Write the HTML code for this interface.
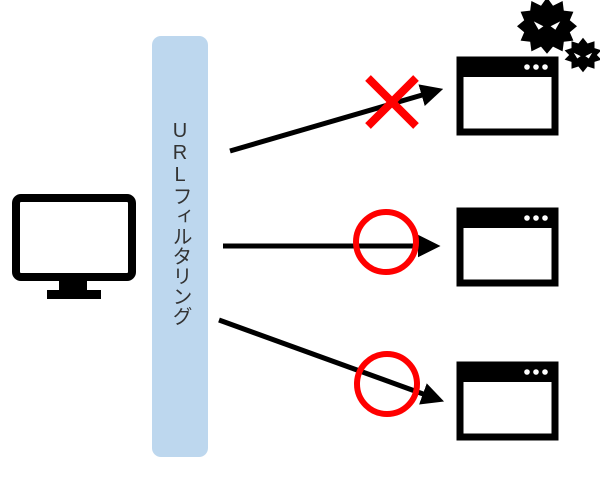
<!DOCTYPE html>
<html><head><meta charset="utf-8"><style>
html,body{margin:0;padding:0;background:#fff;width:600px;height:483px;overflow:hidden;}
.t{position:absolute;left:164px;top:120px;width:32px;height:230px;writing-mode:vertical-rl;text-orientation:upright;font-family:"Liberation Sans","Noto Sans CJK JP",sans-serif;font-size:20px;color:#333;letter-spacing:0;line-height:32px;text-align:start;}
</style></head><body>
<svg width="600" height="483" style="position:absolute;left:0;top:0">
<defs><marker id="a" markerWidth="4.5" markerHeight="4.5" refX="3" refY="2.25" orient="auto"><path d="M0,0L4.5,2.25L0,4.5Z" fill="#000"/></marker></defs>
<rect x="152" y="36" width="56" height="421" rx="9" fill="#bdd7ee"/>
<rect x="16" y="198" width="116" height="79" rx="5" fill="#fff" stroke="#000" stroke-width="8"/>
<rect x="59" y="280" width="28" height="11" fill="#000"/>
<rect x="47" y="290" width="54" height="9" fill="#000"/>
<g id="b"><rect x="460" y="60" width="95" height="72" fill="#fff" stroke="#000" stroke-width="7"/><rect x="457" y="57" width="101" height="20" fill="#000"/><circle cx="527" cy="67" r="2.8" fill="#fff"/><circle cx="536" cy="67" r="2.8" fill="#fff"/><circle cx="545" cy="67" r="2.8" fill="#fff"/></g>
<use href="#b" y="151"/>
<use href="#b" y="305"/>
<g transform="translate(547,25) scale(1.2) translate(-547,-25)">
<polygon points="547,2 552,9 560,5 561,13 569,14 566,21 572,26 566,31 569,38 561,39 560,47 552,43 547,49 542,43 534,47 533,39 525,38 528,31 522,26 528,21 525,14 533,13 534,5 542,9" fill="#000"/>
<path d="M536,22 L544,26 L540,29Z M558,22 L550,26 L554,29Z" fill="#fff"/>
</g>
<g transform="translate(583,55) scale(1.15) translate(-583,-55)">
<polygon points="583,40 587,45 593,43 593,49 599,51 595,55 599,59 593,61 593,67 587,65 583,70 579,65 573,67 573,61 567,59 571,55 567,51 573,49 573,43 579,45" fill="#000"/>
<path d="M575,53 L581,56 L578,58Z M591,53 L585,56 L588,58Z" fill="#fff"/>
</g>
<line x1="230" y1="151" x2="436" y2="91" stroke="#000" stroke-width="5" marker-end="url(#a)"/>
<line x1="223" y1="246" x2="433" y2="246" stroke="#000" stroke-width="5" marker-end="url(#a)"/>
<line x1="219" y1="320" x2="437" y2="399" stroke="#000" stroke-width="5" marker-end="url(#a)"/>
<path d="M368,78 L416,126 M416,78 L368,126" stroke="#f00" stroke-width="8"/>
<circle cx="386" cy="242" r="30" fill="none" stroke="#f00" stroke-width="6"/>
<circle cx="387" cy="384" r="30" fill="none" stroke="#f00" stroke-width="6"/>
</svg>
<div class="t">URLフィルタリング</div>
</body></html>
